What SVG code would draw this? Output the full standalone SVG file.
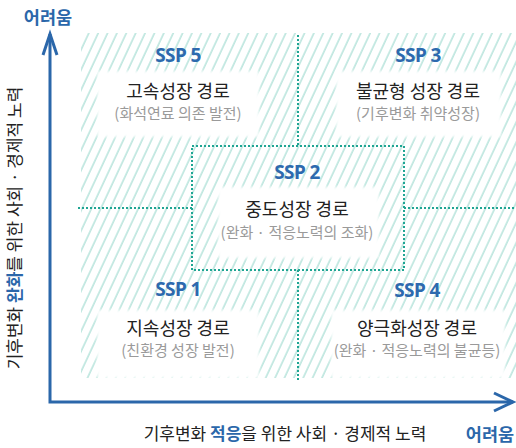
<svg xmlns="http://www.w3.org/2000/svg" width="516" height="448" viewBox="0 0 516 448">
  <defs>
    <pattern id="hatch" width="8.5" height="8.5" patternUnits="userSpaceOnUse" patternTransform="rotate(25)">
      <line x1="1" y1="-1" x2="1" y2="10" stroke="#a4dcd2" stroke-width="1.2"/>
    </pattern>
    <filter id="soft" x="-10%" y="-20%" width="120%" height="140%">
      <feGaussianBlur stdDeviation="1.5"/>
    </filter>
    <style>
      .ko { font-family: "Noto Sans CJK KR", "Noto Sans", sans-serif; }
      .ssp { font-family: "Noto Sans", "Noto Sans CJK KR", sans-serif; font-weight: 700; font-size: 19px; fill: #2d6aae; text-anchor: middle; letter-spacing: -0.6px; }
      .title { font-size: 18px; fill: #222222; text-anchor: middle; }
      .sub { font-size: 15px; fill: #9a9a9a; text-anchor: middle; }
      .box { fill: #ffffff; filter: url(#soft); }
      .div { fill: none; stroke: #1fa593; stroke-width: 2; stroke-dasharray: 2 2; }
      .axis { fill: none; stroke: #2b67aa; stroke-width: 3; }
      .ax-label { font-size: 17px; fill: #222222; }
      .hl { fill: #2b67aa; font-weight: 700; }
    </style>
  </defs>

  <rect id="background" x="0" y="0" width="516" height="448" fill="#ffffff"/>
  <rect id="hatch-area" x="81" y="33" width="435" height="345" fill="url(#hatch)"/>

  <g id="connectors">
    <line class="div" x1="298" y1="35" x2="298" y2="146"/>
    <rect class="div" x="192" y="146" width="212" height="124"/>
    <line class="div" x1="78" y1="208" x2="192" y2="208"/>
    <line class="div" x1="404" y1="208" x2="516" y2="208"/>
    <line class="div" x1="298" y1="270" x2="298" y2="380"/>
  </g>

  <g id="ssp5" class="ko">
    <rect class="box" x="97" y="71" width="162" height="66"/>
    <text class="ssp" x="178" y="62">SSP 5</text>
    <text class="title" x="178" y="98">고속성장 경로</text>
    <text class="sub" x="178" y="119">(화석연료 의존 발전)</text>
  </g>

  <g id="ssp3" class="ko">
    <rect class="box" x="336" y="71" width="165" height="66"/>
    <text class="ssp" x="418" y="62">SSP 3</text>
    <text class="title" x="418" y="98">불균형 성장 경로</text>
    <text class="sub" x="418" y="119">(기후변화 취약성장)</text>
  </g>

  <g id="ssp2" class="ko">
    <rect class="box" x="218" y="187" width="161" height="71"/>
    <text class="ssp" x="297" y="179">SSP 2</text>
    <text class="title" x="297" y="216">중도성장 경로</text>
    <text class="sub" x="297" y="238">(완화 · 적응노력의 조화)</text>
  </g>

  <g id="ssp1" class="ko">
    <rect class="box" x="97" y="310" width="162" height="68"/>
    <text class="ssp" x="178" y="296">SSP 1</text>
    <text class="title" x="178" y="335">지속성장 경로</text>
    <text class="sub" x="178" y="356">(친환경 성장 발전)</text>
  </g>

  <g id="ssp4" class="ko">
    <rect class="box" x="331" y="310" width="174" height="68"/>
    <text class="ssp" x="417" y="297">SSP 4</text>
    <text class="title" x="417" y="335">양극화성장 경로</text>
    <text class="sub" x="417" y="356">(완화 · 적응노력의 불균등)</text>
  </g>

  <g id="axes">
    <polyline class="axis" points="50,34 50,402 513,402"/>
    <polyline class="axis" points="43,55 50,34 57,55"/>
    <polyline class="axis" points="494,393 513,402 494,411"/>
    <text class="ko hl" x="48" y="24" font-size="17.5" text-anchor="middle">어려움</text>
    <text class="ko hl" x="490" y="441" font-size="17.5" text-anchor="middle">어려움</text>
    <text class="ko ax-label" x="285" y="440" text-anchor="middle">기후변화 <tspan class="hl" font-weight="400">적응</tspan>을 위한 사회 · 경제적 노력</text>
    <text class="ko ax-label" transform="translate(21,228) rotate(-90)" text-anchor="middle">기후변화 <tspan class="hl" font-weight="400">완화</tspan>를 위한 사회 · 경제적 노력</text>
  </g>
</svg>
